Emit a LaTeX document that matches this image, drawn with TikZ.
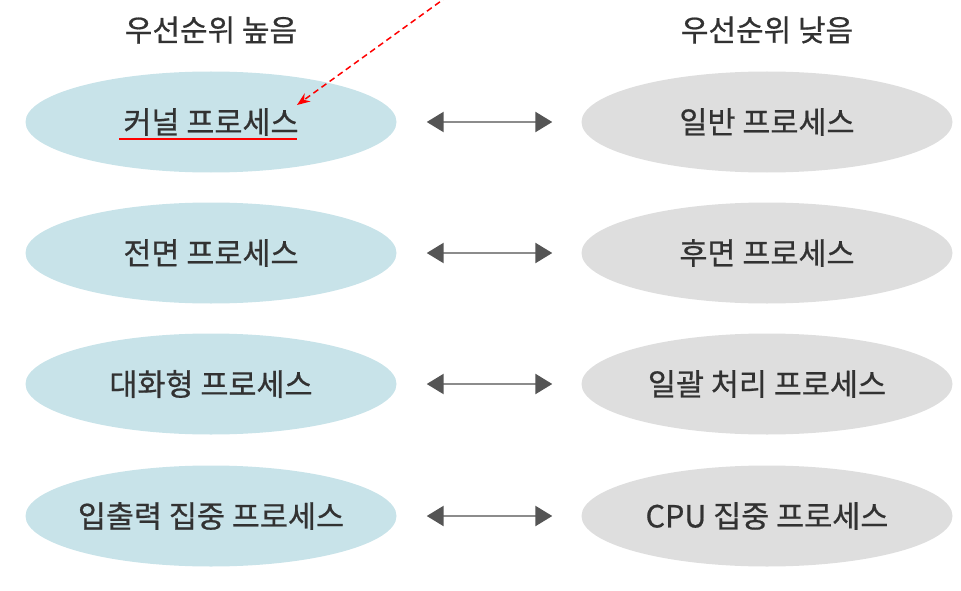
\documentclass[tikz,border=0pt]{standalone}
\usepackage{fontspec}
\setmainfont{Noto Sans CJK KR}
\newfontfamily\medfont[FakeBold=0.6]{Noto Sans CJK KR}
\usetikzlibrary{shapes.geometric,arrows.meta}
\definecolor{highblue}{RGB}{200,227,233}
\definecolor{lowgray}{RGB}{222,222,222}
\definecolor{txtgray}{RGB}{50,50,50}
\definecolor{linegray}{RGB}{140,140,140}
\definecolor{headgray}{RGB}{85,85,85}
\tikzset{
  proc/.style={ellipse, minimum width=371pt, minimum height=101pt,
    inner xsep=-10pt, inner ysep=0pt,
    text=txtgray, font=\medfont\fontsize{30.5}{34}\selectfont},
  high/.style={proc, fill=highblue},
  low/.style={proc, fill=lowgray},
  title/.style={text=txtgray, font=\medfont\fontsize{30}{34}\selectfont},
  pairarrow/.style={draw=linegray, line width=2.5pt,
    {Triangle[length=17pt,width=20pt,color=headgray]}-{Triangle[length=17pt,width=20pt,color=headgray]},
    shorten <=30pt, shorten >=29pt},
}
\begin{document}
\begin{tikzpicture}[x=1pt,y=-1pt]
  \useasboundingbox (0,0) rectangle (961,591);
  % titles
  \node[title] (thigh) at (211,30) {우선순위 높음};
  \node[title] (tlow) at (767,30) {우선순위 낮음};
  % high priority
  \node[high] (kernel) at (211,122) {커널 프로세스};
  \node[high] (front) at (211,253) {전면 프로세스};
  \node[high] (inter) at (211,384) {대화형 프로세스};
  \node[high] (io) at (211,516) {입출력 집중 프로세스};
  % low priority
  \node[low] (normal) at (767,122) {일반 프로세스};
  \node[low] (back) at (767,253) {후면 프로세스};
  \node[low] (batch) at (767,384) {일괄 처리 프로세스};
  \node[low] (cpu) at (767,516) {CPU 집중 프로세스};
  % arrows
  \draw[pairarrow] (kernel) -- (normal);
  \draw[pairarrow] (front) -- (back);
  \draw[pairarrow] (inter) -- (batch);
  \draw[pairarrow] (io) -- (cpu);
  % red mark
  \coordinate (mstart) at (448,-4);
  \coordinate (mtip) at (297,105);
  \draw[red, dash pattern=on 6pt off 4pt, line width=1.5pt, -{Stealth[length=13pt,width=10pt]}] (mstart) -- (mtip);
  \draw[red, line width=1.2pt] ([xshift=-92pt,yshift=-17pt]kernel.center) -- ([xshift=86pt,yshift=-17pt]kernel.center);
\end{tikzpicture}
\end{document}
